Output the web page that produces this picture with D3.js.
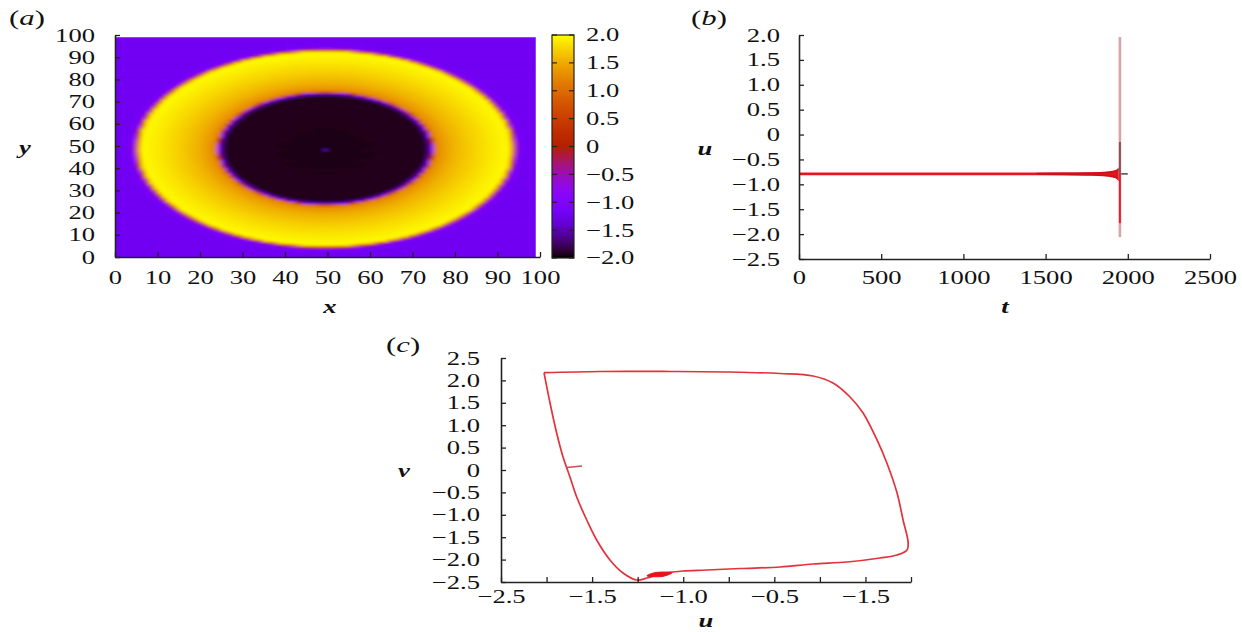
<!DOCTYPE html>
<html>
<head>
<meta charset="utf-8">
<script src="https://cdn.jsdelivr.net/npm/d3@7"></script>
<style>
  body { margin: 0; background: #fff; }
  svg text { font-family: "Liberation Serif", "Times New Roman", serif; fill: #111; }
</style>
</head>
<body>
<script>
'use strict';

// ---------- panel (a): u(x, y) target pattern ----------
// radial profile of u measured from the ring centre, read off the map
const ringCenter = [49.5, 49];
const profileR = [0, 23.8, 24.4, 25.0, 25.6, 26.5, 30, 35, 40, 43.0, 43.8, 44.5, 45.3, 46.5, 80];
const profileU = [-1.95, -1.92, -1.6, -0.9, 1.0, 1.3, 1.55, 1.75, 1.9, 1.97, 1.8, 0.3, -1.0, -1.2, -1.2];
const spotCells = [[49, 48, -1.4]]; // faint dot in the middle
const gridN = 99;
const aTicks = [0, 10, 20, 30, 40, 50, 60, 70, 80, 90, 100];
const cbTicks = [2.0, 1.5, 1.0, 0.5, 0, -0.5, -1.0, -1.5, -2.0];
const cbLabels = ["2.0", "1.5", "1.0", "0.5", "0", "\u22120.5", "\u22121.0", "\u22121.5", "\u22122.0"];

// ---------- panel (b): u(t) ----------
const bXTicks = [0, 500, 1000, 1500, 2000, 2500];
const bYTicks = [2.0, 1.5, 1.0, 0.5, 0, -0.5, -1.0, -1.5, -2.0, -2.5];
const bYLabels = ["2.0", "1.5", "1.0", "0.5", "0", "\u22120.5", "\u22121.0", "\u22121.5", "\u22122.0", "\u22122.5"];
const restT = [0, 1950];
const restU = [-0.79, -0.79];
const envT = [1450, 1600, 1750, 1850, 1900, 1930, 1945, 1952];
const envHi = [-0.785, -0.78, -0.775, -0.765, -0.75, -0.72, -0.69, -0.66];
const envLo = [-0.795, -0.80, -0.81, -0.82, -0.84, -0.87, -0.91, -0.94];
const spikeT = 1952;
const spikeU = [1.96, -2.06];
const spikeUpper = [-0.15, -0.79];
const spikeLower = [-0.79, -1.78];
const tailT = [1952, 2000];
const tailU = [-0.79, -0.79];

// ---------- panel (c): phase plane (u, v) ----------
const cycleU = [-2.028, -1.413, -0.645, 0.014, 0.563, 0.925, 1.144, 1.331, 1.474, 1.627, 1.735, 1.847,
  1.913, 1.968, 1.957, 1.847, 1.660, 1.298, 0.925, 0.563, 0.123, -0.239, -0.502, -0.612, -0.755,
  -0.897, -1.010, -1.161, -1.304, -1.450, -1.559, -1.669, -1.743, -1.819, -1.889, -1.962, -2.028];
const cycleV = [2.172, 2.199, 2.199, 2.188, 2.154, 2.098, 1.942, 1.629, 1.272, 0.670, 0.156, -0.513,
  -1.116, -1.607, -1.786, -1.897, -1.964, -2.054, -2.098, -2.165, -2.199, -2.232, -2.254, -2.277, -2.321,
  -2.411, -2.455, -2.299, -2.009, -1.563, -1.116, -0.603, -0.156, 0.290, 0.826, 1.496, 2.172];
const blobU = [-0.897, -0.799, -0.623, -0.733];
const blobV = [-2.366, -2.288, -2.288, -2.377];
const stubU = [-1.781, -1.611];
const stubV = [0.056, 0.089];
const cXTicks = [-2.5, -2.0, -1.5, -1.0, -0.5, 0, 0.5, 1.0, 1.5, 2.0];
const cXLabels = ["\u22122.5", "", "\u22121.5", "", "\u22121.0", "", "\u22120.5", "", "\u22121.5", ""];
const cYTicks = [2.5, 2.0, 1.5, 1.0, 0.5, 0, -0.5, -1.0, -1.5, -2.0, -2.5];
const cYLabels = ["2.5", "2.0", "1.5", "1.0", "0.5", "0", "\u22120.5", "\u22121.0", "\u22121.5", "\u22122.0", "\u22122.5"];

const SX = 1.4;      // the figure's lettering is stretched sideways
const FS = 19;

// gnuplot default pm3d palette (rgbformulae 7,5,15)
const palette = t => d3.rgb(255 * Math.sqrt(t), 255 * t * t * t, 255 * Math.max(0, Math.sin(2 * Math.PI * t)));
const color = d3.scaleSequential([-2, 2], palette);

const svg = d3.select('body').append('svg')
    .attr('width', 1242)
    .attr('height', 632);
const defs = svg.append('defs');

// text helper with the sideways stretch
function label(x, y, str, opts) {
    opts = opts || {};
    return svg.append('text')
        .attr('transform', `translate(${x},${y}) scale(${SX},1)`)
        .attr('text-anchor', opts.anchor || 'start')
        .style('font-size', (opts.size || FS) + 'px')
        .style('font-style', opts.italic ? 'italic' : null)
        .style('font-weight', opts.bold ? 'bold' : null)
        .text(str);
}

function panelTag(x, y, letter) {
    const t = svg.append('text')
        .attr('transform', `translate(${x},${y}) scale(${SX},1)`)
        .style('font-size', '22px');
    t.append('tspan').text('(');
    t.append('tspan').style('font-style', 'italic').text(letter);
    t.append('tspan').text(')');
}

// axes with inward ticks
function drawAxis(g, axisFn, scale, ticks, labels, pad) {
    const ax = axisFn(scale)
        .tickValues(ticks)
        .tickFormat((d, i) => labels[i])
        .tickSizeInner(-5)
        .tickSizeOuter(0)
        .tickPadding(pad);
    g.call(ax);
    g.attr('font-family', null).attr('font-size', null);
    g.select('.domain').attr('stroke', '#222').attr('stroke-width', 1.6);
    g.selectAll('.tick line').attr('stroke', '#222').attr('stroke-width', 1.3);
    g.selectAll('.tick text')
        .style('font-size', FS + 'px')
        .attr('fill', '#111')
        .attr('transform', `scale(${SX},1)`);
}

// ---------------- (a) ----------------
const xA = d3.scaleLinear([0, 100], [115, 540]);
const yA = d3.scaleLinear([0, 100], [257, 35]);
const profile = d3.scaleLinear(profileR, profileU).clamp(true);

const cells = [];
for (let j = 0; j < gridN; j++) {
    for (let i = 0; i < gridN; i++) {
        const r = Math.hypot(i + 0.5 - ringCenter[0], j + 0.5 - ringCenter[1]);
        cells.push({ i: i, j: j, u: profile(r) });
    }
}
spotCells.forEach(s => { cells[s[1] * gridN + s[0]].u = s[2]; });

// soften the cells a little, like the interpolated map in the figure
const blur = defs.append('filter').attr('id', 'soft')
    .attr('x', -0.05).attr('y', -0.05).attr('width', 1.1).attr('height', 1.1);
blur.append('feGaussianBlur').attr('stdDeviation', '2.1 1.1');
blur.append('feComponentTransfer').append('feFuncA').attr('type', 'linear').attr('slope', 30);
defs.append('clipPath').attr('id', 'mapclip').append('rect')
    .attr('x', xA(0)).attr('y', yA(gridN))
    .attr('width', xA(gridN) - xA(0)).attr('height', yA(0) - yA(gridN));

const cw = xA(1) - xA(0);
const ch = yA(0) - yA(1);
svg.append('g').attr('clip-path', 'url(#mapclip)')
    .append('g').attr('filter', 'url(#soft)')
    .selectAll('rect')
    .data(cells)
    .enter()
    .append('rect')
    .attr('x', d => xA(d.i))
    .attr('y', d => yA(d.j + 1))
    .attr('width', cw + 0.6)
    .attr('height', ch + 0.6)
    .attr('fill', d => color(d.u));

drawAxis(svg.append('g').attr('transform', `translate(${xA(0)},0)`),
    d3.axisLeft, yA, aTicks, aTicks.map(String), 20 / SX);
drawAxis(svg.append('g').attr('transform', `translate(0,${yA(0)})`),
    d3.axisBottom, xA, aTicks, aTicks.map(String), 14);

// colour bar
const cb = d3.scaleLinear([-2, 2], [258, 35]);
const grad = defs.append('linearGradient')
    .attr('id', 'cbgrad')
    .attr('x1', 0).attr('y1', 1).attr('x2', 0).attr('y2', 0);
grad.selectAll('stop')
    .data(d3.range(0, 1.0001, 0.025))
    .enter()
    .append('stop')
    .attr('offset', d => d)
    .attr('stop-color', d => palette(d));
svg.append('rect')
    .attr('x', 552).attr('y', cb(2))
    .attr('width', 22).attr('height', cb(-2) - cb(2))
    .attr('fill', 'url(#cbgrad)')
    .attr('stroke', '#222').attr('stroke-width', 1.2);
const cbG = svg.append('g');
cbG.selectAll('.l').data(cbTicks).enter().append('line')
    .attr('x1', 552).attr('x2', 557)
    .attr('y1', d => cb(d)).attr('y2', d => cb(d))
    .attr('stroke', '#222').attr('stroke-width', 1.2);
cbG.selectAll('.r').data(cbTicks).enter().append('line')
    .attr('x1', 569).attr('x2', 574)
    .attr('y1', d => cb(d)).attr('y2', d => cb(d))
    .attr('stroke', '#222').attr('stroke-width', 1.2);
cbTicks.forEach((d, i) => {
    label(586, cb(d), cbLabels[i]).attr('dy', '0.34em');
});

label(25, 154, 'y', { anchor: 'middle', italic: true, bold: true });
label(330, 313, 'x', { anchor: 'middle', italic: true, bold: true });
panelTag(9, 25, 'a');

// ---------------- (b) ----------------
const xB = d3.scaleLinear([0, 2500], [799, 1210]);
const yB = d3.scaleLinear([-2.5, 2.0], [259, 35]);

const lineB = d3.line().x(d => xB(d[0])).y(d => yB(d[1]));

svg.append('path')
    .attr('d', lineB(restT.map((t, i) => [t, restU[i]])))
    .attr('fill', 'none').attr('stroke', '#e8161c').attr('stroke-width', 2.6);

svg.append('path')
    .attr('d', d3.area()
        .x(d => xB(d.t)).y0(d => yB(d.lo)).y1(d => yB(d.hi))
        .curve(d3.curveMonotoneX)(envT.map((t, i) => ({ t: t, hi: envHi[i], lo: envLo[i] }))))
    .attr('fill', '#e0141a').attr('stroke', '#d01018').attr('stroke-width', 1.6);

svg.append('path')
    .attr('d', lineB(tailT.map((t, i) => [t, tailU[i]])))
    .attr('stroke', '#555').attr('stroke-width', 1.6);

svg.append('path')
    .attr('d', lineB(spikeU.map(u => [spikeT, u])))
    .attr('stroke', '#d9a3a8').attr('stroke-width', 2.6);
svg.append('path')
    .attr('d', lineB(spikeUpper.map(u => [spikeT, u])))
    .attr('stroke', '#8e4f52').attr('stroke-width', 2);
svg.append('path')
    .attr('d', lineB(spikeLower.map(u => [spikeT, u])))
    .attr('stroke', '#e8202a').attr('stroke-width', 2);

drawAxis(svg.append('g').attr('transform', `translate(${xB(0)},0)`),
    d3.axisLeft, yB, bYTicks, bYLabels, 19 / SX);
drawAxis(svg.append('g').attr('transform', `translate(0,${yB(-2.5)})`),
    d3.axisBottom, xB, bXTicks, bXTicks.map(String), 12);

label(705, 155, 'u', { anchor: 'middle', italic: true, bold: true });
label(1005, 313, 't', { anchor: 'middle', italic: true, bold: true });
panelTag(691, 25, 'b');

// ---------------- (c) ----------------
const xC = d3.scaleLinear([-2.5, 2.0], [501, 911]);
const yC = d3.scaleLinear([-2.5, 2.5], [582, 358]);

const lineC = d3.line().x(d => xC(d[0])).y(d => yC(d[1]));

svg.append('path')
    .attr('d', lineC.curve(d3.curveCatmullRom)(cycleU.map((u, i) => [u, cycleV[i]])))
    .attr('fill', 'none').attr('stroke', '#e2323c').attr('stroke-width', 1.7);

svg.append('path')
    .attr('d', d3.line().x(d => xC(d[0])).y(d => yC(d[1])).curve(d3.curveCardinalClosed)(blobU.map((u, i) => [u, blobV[i]])))
    .attr('fill', '#e8141c').attr('stroke', '#e8141c').attr('stroke-width', 1);

svg.append('path')
    .attr('d', d3.line().x(d => xC(d[0])).y(d => yC(d[1]))(stubU.map((u, i) => [u, stubV[i]])))
    .attr('fill', 'none').attr('stroke', '#d04a55').attr('stroke-width', 1.4);

drawAxis(svg.append('g').attr('transform', `translate(${xC(-2.5)},0)`),
    d3.axisLeft, yC, cYTicks, cYLabels, 21 / SX);
drawAxis(svg.append('g').attr('transform', `translate(0,${yC(-2.5)})`),
    d3.axisBottom, xC, cXTicks, cXLabels, 8);

label(404, 477, 'v', { anchor: 'middle', italic: true, bold: true });
label(706, 627, 'u', { anchor: 'middle', italic: true, bold: true });
panelTag(386, 352, 'c');
</script>
</body>
</html>
